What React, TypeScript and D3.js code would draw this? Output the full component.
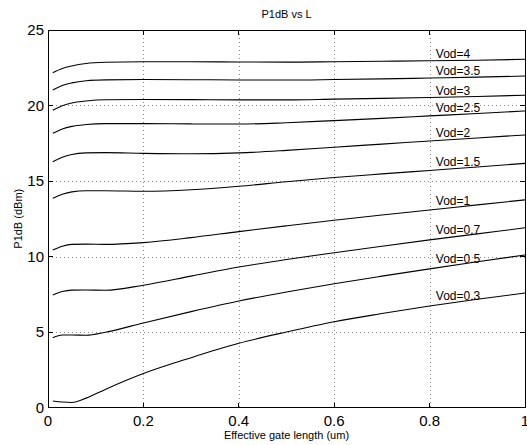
import React from "react";
import * as d3 from "d3";

// gate length samples (um)
const lengths = [0.01, 0.03, 0.05, 0.08, 0.12, 0.2, 0.3, 0.4, 0.5, 0.6, 0.7, 0.8, 0.9, 1.0];

// P1dB (dBm) per overdrive voltage
const vod4 = [22.17, 22.45, 22.62, 22.78, 22.86, 22.9, 22.9, 22.88, 22.87, 22.9, 22.93, 22.96, 23.0, 23.06];
const vod35 = [21.03, 21.33, 21.5, 21.64, 21.7, 21.72, 21.71, 21.69, 21.69, 21.72, 21.76, 21.82, 21.88, 21.95];
const vod3 = [19.69, 19.98, 20.17, 20.3, 20.38, 20.4, 20.39, 20.37, 20.37, 20.42, 20.47, 20.53, 20.6, 20.68];
const vod25 = [18.16, 18.45, 18.62, 18.74, 18.8, 18.8, 18.78, 18.77, 18.86, 19.0, 19.15, 19.31, 19.47, 19.64];
const vod2 = [16.28, 16.58, 16.76, 16.86, 16.88, 16.83, 16.8, 16.86, 17.03, 17.24, 17.44, 17.65, 17.85, 18.05];
const vod15 = [13.85, 14.12, 14.28, 14.35, 14.35, 14.32, 14.42, 14.65, 14.95, 15.23, 15.47, 15.7, 15.93, 16.17];
const vod1 = [10.43, 10.68, 10.8, 10.82, 10.8, 10.92, 11.25, 11.65, 12.03, 12.4, 12.75, 13.08, 13.42, 13.75];
const vod07 = [7.45, 7.68, 7.77, 7.78, 7.76, 8.1, 8.7, 9.3, 9.8, 10.25, 10.68, 11.1, 11.5, 11.9];
const vod05 = [4.62, 4.8, 4.8, 4.78, 4.98, 5.6, 6.35, 7.05, 7.65, 8.2, 8.7, 9.18, 9.65, 10.1];
const vod03 = [0.43, 0.36, 0.33, 0.62, 1.2, 2.25, 3.3, 4.25, 5.0, 5.68, 6.22, 6.72, 7.17, 7.58];

const seriesNames = ["Vod=4", "Vod=3.5", "Vod=3", "Vod=2.5", "Vod=2", "Vod=1.5", "Vod=1", "Vod=0.7", "Vod=0.5", "Vod=0.3"];
const seriesValues = [vod4, vod35, vod3, vod25, vod2, vod15, vod1, vod07, vod05, vod03];

const xTicks = [0, 0.2, 0.4, 0.6, 0.8, 1];
const yTicks = [0, 5, 10, 15, 20, 25];

const W = 527, H = 445;
const m = { left: 48, right: 525, top: 30, bottom: 407.5 };
const font = "'Liberation Sans', Arial, Helvetica, sans-serif";

export default function App() {
  const x = d3.scaleLinear().domain([0, 1]).range([m.left, m.right]);
  const y = d3.scaleLinear().domain([0, 25]).range([m.bottom, m.top]);

  const line = d3
    .line<number>()
    .x((d, i) => x(lengths[i]))
    .y((d) => y(d))
    .curve(d3.curveMonotoneX);

  // label sits on the curve around its middle
  const labelX = 0.813;
  const interp = (vals: number[], at: number) => {
    const i = d3.bisectLeft(lengths, at);
    const t = (at - lengths[i - 1]) / (lengths[i] - lengths[i - 1]);
    return vals[i - 1] + t * (vals[i] - vals[i - 1]);
  };

  const tick = 5;

  return (
    <svg width={W} height={H} style={{ position: "fixed", left: 0, top: 0, background: "#fff" }}>
      <rect x={0} y={0} width={W} height={H} fill="#fff" />
      {/* grid */}
      <g stroke="#888" strokeWidth={1} strokeDasharray="1,3" shapeRendering="crispEdges">
        {xTicks.slice(1, -1).map((t) => (
          <line key={"gx" + t} x1={Math.round(x(t)) + 0.5} x2={Math.round(x(t)) + 0.5} y1={m.top} y2={m.bottom} />
        ))}
        {yTicks.slice(1, -1).map((t) => (
          <line key={"gy" + t} x1={m.left} x2={m.right} y1={Math.round(y(t)) + 0.5} y2={Math.round(y(t)) + 0.5} />
        ))}
      </g>
      {/* curves */}
      <g fill="none" stroke="#000" strokeWidth={1.1}>
        {seriesValues.map((vals, k) => (
          <path key={seriesNames[k]} d={line(vals) || ""} />
        ))}
      </g>
      {/* labels */}
      <g fontFamily={font} fontSize={12} fill="#000">
        {seriesValues.map((vals, k) => (
          <text key={"l" + k} x={x(labelX)} y={y(interp(vals, 0.86)) - 2}>
            {seriesNames[k]}
          </text>
        ))}
      </g>
      {/* box + ticks */}
      <g stroke="#000" strokeWidth={1} shapeRendering="crispEdges">
        <rect x={m.left} y={m.top} width={m.right - m.left} height={m.bottom - m.top} fill="none" />
        {xTicks.map((t) => (
          <g key={"tx" + t}>
            <line x1={x(t)} x2={x(t)} y1={m.bottom} y2={m.bottom - tick} />
            <line x1={x(t)} x2={x(t)} y1={m.top} y2={m.top + tick} />
          </g>
        ))}
        {yTicks.map((t) => (
          <g key={"ty" + t}>
            <line x1={m.left} x2={m.left + tick} y1={y(t)} y2={y(t)} />
            <line x1={m.right} x2={m.right - tick} y1={y(t)} y2={y(t)} />
          </g>
        ))}
      </g>
      {/* tick labels */}
      <g fontFamily={font} fontSize={15} fill="#000">
        {xTicks.map((t) => (
          <text key={"xl" + t} x={x(t)} y={426} textAnchor="middle">
            {d3.format("~g")(t)}
          </text>
        ))}
        {yTicks.map((t) => (
          <text key={"yl" + t} x={44} y={y(t)} dy="0.35em" textAnchor="end">
            {t}
          </text>
        ))}
      </g>
      <text x={(m.left + m.right) / 2} y={18} textAnchor="middle" fontFamily={font} fontSize={11}>
        P1dB vs L
      </text>
      <text x={(m.left + m.right) / 2} y={439} textAnchor="middle" fontFamily={font} fontSize={11}>
        Effective gate length (um)
      </text>
      <text
        transform={`translate(22, ${(m.top + m.bottom) / 2}) rotate(-90)`}
        textAnchor="middle"
        fontFamily={font}
        fontSize={11}
      >
        P1dB (dBm)
      </text>
    </svg>
  );
}
